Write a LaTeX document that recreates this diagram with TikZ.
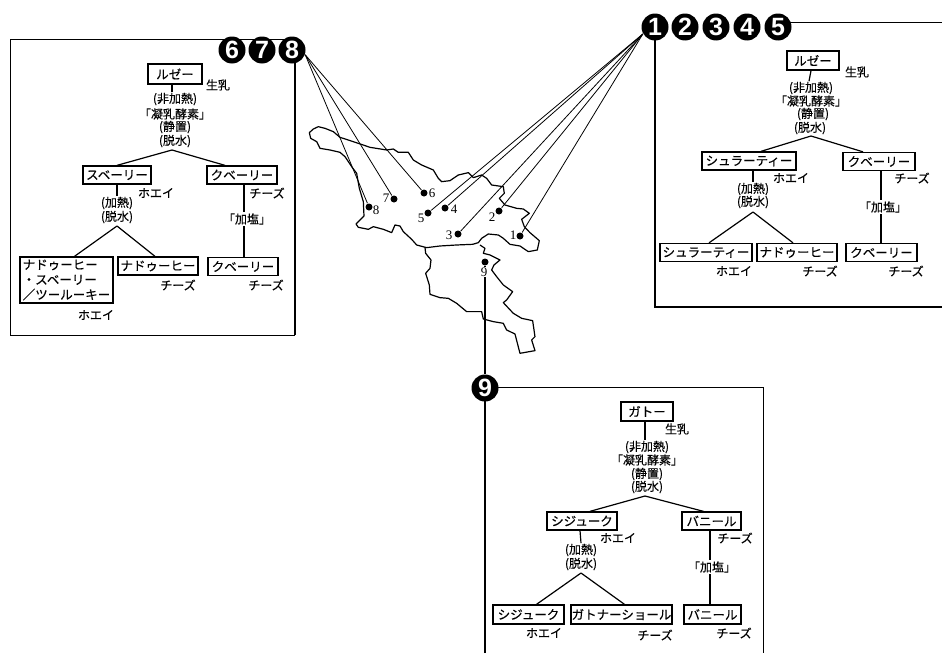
\documentclass[tikz,border=0pt]{standalone}
\usepackage{fontspec}
\setmainfont{Noto Sans CJK JP}[FakeBold=0.35]
\newfontfamily\numfont{Liberation Sans}
\newfontfamily\mapfont{Liberation Serif}
\usetikzlibrary{positioning}

\begin{document}
\begin{tikzpicture}[x=1pt,y=-1pt,line width=1.2pt,
        rbox/.style={draw,line width=1.3pt,fill=white,minimum height=18pt,inner sep=0pt,
                     font=\fontsize{12.5}{15}\selectfont},
        lbl/.style={inner sep=0pt,font=\fontsize{12}{13}\selectfont},
        step lbl/.style={lbl,fill=white,inner ysep=1pt},
        numc/.style={circle,fill=black,text=white,minimum size=27pt,inner sep=0pt,
                     font=\fontsize{25}{25}\numfont\bfseries},
        mdot/.style={circle,fill=black,minimum size=7pt,inner sep=0pt},
        mnum/.style={inner sep=0pt,font=\fontsize{13}{13}\mapfont}]
        \useasboundingbox (0,0) rectangle (942,653);

        % map
        \begin{scope}[shift={(290,110)},x=0.3333pt,y=-0.3333pt,line join=round]
          \draw (58,68) -- (70,57) -- (85,50) -- (105,55) -- (130,65) -- (150,82) -- (175,90)
            -- (205,100) -- (240,112) -- (290,120) -- (310,117) -- (325,127) -- (355,127)
            -- (370,150) -- (395,165) -- (430,180) -- (445,205) -- (455,215) -- (480,212)
            -- (505,195) -- (535,188) -- (550,203) -- (575,195) -- (590,205) -- (605,225)
            -- (640,230) -- (643,250) -- (628,265) -- (645,285) -- (680,295) -- (700,297)
            -- (718,310) -- (695,328) -- (703,350) -- (720,368) -- (748,392) -- (742,420)
            -- (715,425) -- (690,408) -- (660,403) -- (640,385) -- (625,375) -- (595,372)
            -- (575,385) -- (565,398) -- (548,403) -- (500,405) -- (450,408) -- (410,413)
            -- (380,405) -- (365,388) -- (340,365) -- (330,348) -- (315,345) -- (305,368)
            -- (280,358) -- (250,350) -- (235,358) -- (205,352) -- (198,342) -- (222,318)
            -- (220,275) -- (208,235) -- (200,190) -- (185,170) -- (165,140) -- (150,127)
            -- (120,120) -- (90,115) -- (80,95) -- (62,85) -- cycle;
          \draw (405,412) -- (407,430) -- (423,450) -- (420,475) -- (407,490) -- (418,525)
            -- (420,553) -- (450,563) -- (475,565) -- (500,580) -- (530,605) -- (575,605)
            -- (580,627) -- (610,635) -- (640,640) -- (650,660) -- (675,672) -- (690,730)
            -- (735,722) -- (725,690) -- (735,680) -- (728,632) -- (695,625) -- (670,610)
            -- (640,578) -- (650,570) -- (668,545) -- (640,525) -- (620,500) -- (605,480)
            -- (612,465) -- (630,450) -- (600,435) -- (580,430) -- (585,415) -- (570,405);
        \end{scope}

        % panels
        \draw[line width=0.8pt] (10,39) -- (295,39);
        \draw[line width=0.8pt] (295,335) -- (10,335) -- (10,39);
        \draw (295,39) -- (295,335);
        \draw[line width=1pt] (778,22) -- (942,22);
        \draw (655,27) -- (655,307) -- (942,307);
        \draw (485,653) -- (485,387);
        \draw[line width=0.8pt] (485,387) -- (763,387) -- (763,653);

        % numbered circles
        \node[numc] (c1) at (655,27) {1};
        \node[numc] (c2) at (685,27) {2};
        \node[numc] (c3) at (716,27) {3};
        \node[numc] (c4) at (747,27) {4};
        \node[numc] (c5) at (778,27) {5};
        \node[numc] (c6) at (232,50) {6};
        \node[numc] (c7) at (262,50) {7};
        \node[numc] (c8) at (292,50) {8};
        \node[numc] (c9) at (485,388) {9};

        % sites
        \node[mdot] (d1) at (520,236) {};
        \node[mdot] (d2) at (499,211) {};
        \node[mdot] (d3) at (458,234) {};
        \node[mdot] (d4) at (445,208) {};
        \node[mdot] (d5) at (428,213) {};
        \node[mdot] (d6) at (424,193) {};
        \node[mdot] (d7) at (394,199) {};
        \node[mdot] (d8) at (369,207) {};
        \node[mdot] (d9) at (485,262) {};
        \draw[line width=0.8pt] (c1.210) -- (d1);
        \draw[line width=0.8pt] (c1.210) -- (d2);
        \draw[line width=0.8pt] (c1.210) -- (d3);
        \draw[line width=0.8pt] (c1.210) -- (d4);
        \draw[line width=0.8pt] (c1.210) -- (d5);
        \draw[line width=0.8pt] (c8.-20) -- (d6);
        \draw[line width=0.8pt] (c8.-20) -- (d7);
        \draw[line width=0.8pt] (c8.-20) -- (d8);
        \draw (d9) -- (c9);
        \node[mnum] (n1) at (513,235) {1};
        \node[mnum] (n2) at (492,217) {2};
        \node[mnum] (n3) at (449,235) {3};
        \node[mnum] (n4) at (454,209) {4};
        \node[mnum] (n5) at (421,218) {5};
        \node[mnum] (n6) at (432,193) {6};
        \node[mnum] (n7) at (386,198) {7};
        \node[mnum] (n8) at (376,210) {8};
        \node[mnum,fill=white,inner sep=0.5pt] (n9) at (484,272) {9};

        % chart 6 7 8
        \node[rbox,minimum width=54pt,minimum height=20pt] (aTop) at (175,74) {ルゼー};
        \node[lbl] (aMilk) at (218,85) {生乳};
        \node[lbl] (aT1) at (175,99) {(非加熱)};
        \node[lbl] (aT2) at (175,114) {「凝乳酵素」};
        \node[lbl] (aT3) at (175,127) {(静置)};
        \node[lbl] (aT4) at (175,141) {(脱水)};
        \node[rbox,minimum width=68pt] (aWhey) at (117,175) {スベーリー};
        \node[rbox,minimum width=70pt] (aCurd) at (242,175) {クベーリー};
        \node[lbl] (aL1) at (156,193) {ホエイ};
        \node[lbl] (aL2) at (267,193) {チーズ};
        \node[lbl] (aT5) at (117,203) {(加熱)};
        \node[lbl] (aT6) at (117,217) {(脱水)};
        \node[rbox,minimum width=93pt,minimum height=46pt,align=left] (aB1) at (66.5,280)
          {ナドゥーヒー\\ ・スベーリー\\／ツールーキー};
        \node[rbox,minimum width=80pt] (aB2) at (158,266) {ナドゥーヒー};
        \node[rbox,minimum width=70pt] (aB3) at (243,266.5) {クベーリー};
        \node[lbl] (aL3) at (178,285) {チーズ};
        \node[lbl] (aL4) at (266,285) {チーズ};
        \node[lbl] (aL5) at (96,315) {ホエイ};
        \coordinate (aFork) at (172,150);
        \coordinate (aFork2) at (117,226);
        \draw ([xshift=-3pt]aTop.south) -- ([xshift=-3pt]aT1.north);
        \draw (aFork) -- (aWhey.north);
        \draw (aFork) -- ([xshift=-17pt]aCurd.north);
        \draw (aWhey.south) -- (aT5.north);
        \draw (aFork2) -- ([xshift=8pt]aB1.north);
        \draw (aFork2) -- ([xshift=-3pt]aB2.north);
        \draw ([xshift=2pt]aCurd.south) -- ([xshift=1pt]aB3.north);
        \node[step lbl] (aSalt) at (247,219) {「加塩」};

        % chart 1 2 3 4 5
        \node[rbox,minimum width=52pt,minimum height=19pt] (bTop) at (813,60.5) {ルゼー};
        \node[lbl] (bMilk) at (857,72) {生乳};
        \node[lbl] (bT1) at (811,88) {(非加熱)};
        \node[lbl] (bT2) at (811,101) {「凝乳酵素」};
        \node[lbl] (bT3) at (813,114) {(静置)};
        \node[lbl] (bT4) at (810,128) {(脱水)};
        \node[rbox,minimum width=94pt] (bWhey) at (749,161) {シュラーティー};
        \node[rbox,minimum width=72pt] (bCurd) at (879,161.5) {クベーリー};
        \node[lbl] (bL1) at (791,178) {ホエイ};
        \node[lbl] (bL2) at (912,178) {チーズ};
        \node[lbl] (bT5) at (753,189) {(加熱)};
        \node[lbl] (bT6) at (753,202) {(脱水)};
        \node[rbox,minimum width=92pt] (bB1) at (706,252.5) {シュラーティー};
        \node[rbox,minimum width=80pt] (bB2) at (797,252.5) {ナドゥーヒー};
        \node[rbox,minimum width=71pt] (bB3) at (881.5,252.5) {クベーリー};
        \node[lbl] (bL3) at (734,271) {ホエイ};
        \node[lbl] (bL4) at (820,271) {チーズ};
        \node[lbl] (bL5) at (906,271) {チーズ};
        \coordinate (bFork) at (811,136);
        \coordinate (bFork2) at (753,212);
        \draw ([xshift=-2pt]bTop.south) -- ([xshift=-2pt]bT1.north);
        \draw (bFork) -- ([xshift=12pt]bWhey.north);
        \draw (bFork) -- ([xshift=-16pt]bCurd.north);
        \draw ([xshift=4pt]bWhey.south) -- (bT5.north);
        \draw (bFork2) -- ([xshift=3pt]bB1.north);
        \draw (bFork2) -- ([xshift=-4pt]bB2.north);
        \draw ([xshift=2pt]bCurd.south) -- ([xshift=-0.5pt]bB3.north);
        \node[step lbl] (bSalt) at (883,207) {「加塩」};

        % chart 9
        \node[rbox,minimum width=52pt,minimum height=19pt] (cTop) at (647,411.5) {ガトー};
        \node[lbl] (cMilk) at (677,429) {生乳};
        \node[lbl] (cT1) at (647,447) {(非加熱)};
        \node[lbl] (cT2) at (647,460) {「凝乳酵素」};
        \node[lbl] (cT3) at (647,474) {(静置)};
        \node[lbl] (cT4) at (647,487) {(脱水)};
        \node[rbox,minimum width=70pt] (cWhey) at (582,521) {シジューク};
        \node[rbox,minimum width=59pt] (cCurd) at (711.5,521) {バニール};
        \node[lbl] (cL1) at (618,538) {ホエイ};
        \node[lbl] (cL2) at (735,538) {チーズ};
        \node[lbl] (cT5) at (581,550) {(加熱)};
        \node[lbl] (cT6) at (581,564) {(脱水)};
        \node[rbox,minimum width=71pt,minimum height=19pt] (cB1) at (528.5,614.5) {シジューク};
        \node[rbox,minimum width=101pt,minimum height=19pt] (cB2) at (621.5,614.5) {ガトナーショール};
        \node[rbox,minimum width=57pt,minimum height=19pt] (cB3) at (712.5,614.5) {バニール};
        \node[lbl] (cL3) at (544,633) {ホエイ};
        \node[lbl] (cL4) at (655,635) {チーズ};
        \node[lbl] (cL5) at (734,633) {チーズ};
        \coordinate (cFork) at (645,496);
        \coordinate (cFork2) at (581,573);
        \draw ([xshift=-2pt]cTop.south) -- ([xshift=-2pt]cT1.north);
        \draw (cFork) -- ([xshift=8pt]cWhey.north);
        \draw (cFork) -- ([xshift=-8pt]cCurd.north);
        \draw ([xshift=-2pt]cWhey.south) -- (cT5.north);
        \draw (cFork2) -- ([xshift=8pt]cB1.north);
        \draw (cFork2) -- ([xshift=3pt]cB2.north);
        \draw ([xshift=-1.5pt]cCurd.south) -- ([xshift=-2.5pt]cB3.north);
        \node[step lbl] (cSalt) at (712,567) {「加塩」};
      \end{tikzpicture}
\end{document}
